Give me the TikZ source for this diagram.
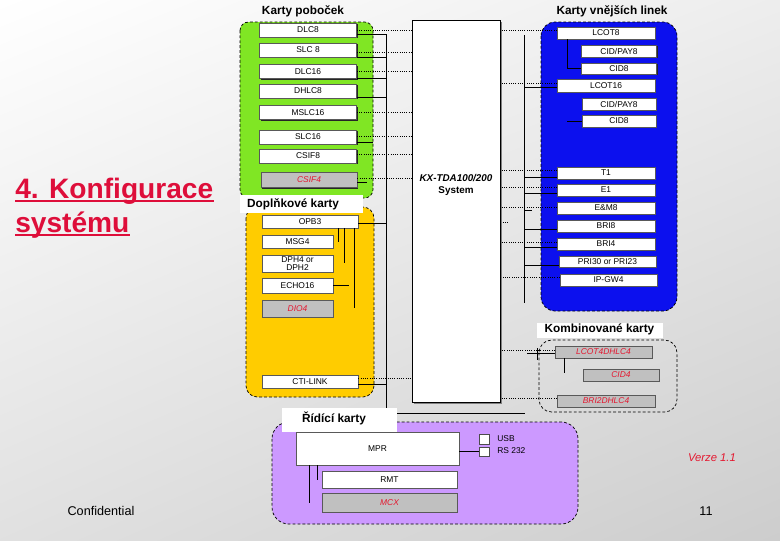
\documentclass[tikz,border=0pt]{standalone}
\usepackage{fontspec}
\setmainfont{Liberation Sans}
\usetikzlibrary{calc,shadows,shadings}
\newcommand{\PX}{0.025cm}
\definecolor{brgreen}{RGB}{128,230,36}
\definecolor{exblue}{RGB}{12,16,238}
\definecolor{opyellow}{RGB}{255,204,0}
\definecolor{ctpurple}{RGB}{204,153,255}
\definecolor{cardgrey}{RGB}{192,192,192}
\definecolor{redlbl}{RGB}{228,24,48}
\definecolor{titlered}{RGB}{222,14,58}
\definecolor{slidegrey}{RGB}{205,205,205}

\begin{document}
\begin{tikzpicture}[
    x=0.025cm, y=-0.025cm,
    card/.style={draw=black!65, fill=white, line width=0.4pt, inner sep=0pt,
      minimum height=14*\PX, font=\fontsize{6}{6.5}\selectfont,
      drop shadow={shadow xshift=1pt, shadow yshift=-1pt, fill=black!85, opacity=1}},
    xcard/.style={card, fill=cardgrey, text=redlbl, font=\fontsize{6}{6.5}\selectfont\itshape},
    port/.style={draw=black!70, fill=white, line width=0.4pt, inner sep=0pt},
    region/.style={draw=black, line width=0.5pt, dash pattern=on 2pt off 1.5pt},
    wire/.style={draw=black, line width=0.6pt},
    dotline/.style={draw=black, line width=0.6pt, densely dotted},
    hdr/.style={font=\fontsize{8.4}{9}\selectfont\bfseries, inner sep=0pt},
    tag/.style={font=\fontsize{6}{6.5}\selectfont, inner sep=0pt},
    ttl/.style={anchor=base west, inner sep=0pt, text=titlered, font=\fontsize{20}{24}\selectfont\bfseries},
  ]

  % slide background
  \shade[upper left=white, upper right=gray!14, lower left=gray!24, lower right=slidegrey]
    (0,0) rectangle (780,540);
  \useasboundingbox (0,0) rectangle (780,540);

  % card groups
  \filldraw[region, fill=brgreen, rounded corners=6pt]  (240,22)  rectangle (373,198);
  \filldraw[region, fill=opyellow, rounded corners=8pt] (246,207) rectangle (374,397);
  \filldraw[region, fill=exblue, rounded corners=10pt]  (541,22)  rectangle (677,311);
  \filldraw[region, fill=ctpurple, rounded corners=12pt] (272,422) rectangle (578,524);
  \draw[region, rounded corners=9pt] (539,340) rectangle (677,412);

  % the system itself
  \node[draw=black, fill=white, line width=0.6pt, minimum width=88*\PX, minimum height=382*\PX,
        drop shadow={shadow xshift=1.5pt, shadow yshift=-1.5pt, fill=gray, opacity=1}]
        (sys) at (456,211) {};
  \node[align=center, font=\fontsize{7}{8}\selectfont\bfseries, inner sep=0pt] (systxt) at (456,185)
        {\itshape KX-TDA100/200\\System};

  \coordinate (busL) at (386,34);
  \coordinate (busLend) at (386,413);
  \coordinate (baseR) at (525,413);
  \coordinate (busR) at (524,35);
  \coordinate (busRend) at (524,303);
  \draw[wire] (busL) -- (busLend) -- (baseR);
  \draw[wire] (busR) -- (busRend);

  % branch cards
  \foreach \n/\lbl/\y in {dlc8/DLC8/30, slc8/SLC 8/50, dlc16/DLC16/71.5, dhlc8/DHLC8/91,
                          mslc16/MSLC16/112.5, slc16/SLC16/137, csif8/CSIF8/156}
    \node[card, minimum width=97*\PX] (\n) at (308,\y) {\lbl};
  \node[xcard, minimum width=96*\PX, minimum height=15*\PX] (csif4) at (309,180) {CSIF4};

  \foreach \n/\d in {dlc8/0, slc8/2, dlc16/0, mslc16/0, slc16/-1, csif8/-2, csif4/-2}
    \draw[dotline] ($(\n.east)+(0,\d)$) coordinate (t) -- (t -| sys.west);
  \foreach \n/\d in {dlc8/4, slc8/7, dlc16/7, dhlc8/6}
    \draw[wire] ($(\n.east)+(0,\d)$) coordinate (t) -- (t -| busL);
  \draw[wire] ($(slc16.east)+(0,5)$) -- ++(16,0);
  \draw[wire] ($(csif4.east)+(0,2)$) -- ++(10,0);

  % optional cards
  \node[card, minimum width=96*\PX, minimum height=13*\PX] (opb3) at (310,221.5) {OPB3};
  \node[card, minimum width=71*\PX, minimum height=13*\PX] (msg4) at (297.5,241.5) {MSG4};
  \node[card, minimum width=71*\PX, minimum height=17*\PX, align=center,
        font=\fontsize{6}{6}\selectfont] (dph) at (297.5,263.5) {DPH4 or\\DPH2};
  \node[card, minimum width=71*\PX, minimum height=15*\PX] (echo16) at (297.5,285.5) {ECHO16};
  \node[xcard, minimum width=71*\PX, minimum height=17*\PX] (dio4) at (297.5,308.5) {DIO4};
  \node[card, minimum width=96*\PX, minimum height=13*\PX] (ctilink) at (310,381.5) {CTI-LINK};

  \draw[wire] ($(opb3.east)+(0,1.5)$) coordinate (t) -- (t -| busL);
  \draw[wire] ($(opb3.south west)+(77,0)$) -- ++(0,14);
  \draw[wire] ($(opb3.south west)+(83,0)$) -- ++(0,35);
  \draw[wire] ($(opb3.south west)+(93,0)$) -- ++(0,80);
  \draw[wire] (echo16.east) -- ++(16,0);
  \draw[dotline] ($(ctilink.east)+(0,-3.5)$) coordinate (t) -- (t -| sys.west);
  \draw[wire] ($(ctilink.east)+(0,2.5)$) coordinate (t) -- (t -| busL);

  % trunk cards
  \foreach \n/\lbl/\x/\y/\w/\h in {lcot8/LCOT8/606/33/98/12, cidpaya/{CID/PAY8}/619/51/75/12,
      cida/CID8/619/68.5/75/11, lcot16/LCOT16/606/85.5/98/13, cidpayb/{CID/PAY8}/619/104/74/12,
      cidb/CID8/619/121/74/12, t1/T1/606/173/98/12, e1/E1/606/190/98/12, em8/E\&M8/606/208/98/12,
      bri8/BRI8/606/226/98/12, bri4/BRI4/606/244/98/12, pri/PRI30 or PRI23/607.5/261.5/97/11,
      ipgw4/IP-GW4/608.5/280/97/12}
    \node[card, minimum width=\w*\PX, minimum height=\h*\PX] (\n) at (\x,\y) {\lbl};

  \foreach \n/\d in {lcot8/-3, lcot16/-2.5, t1/-3, e1/-3, em8/-1, bri4/-2, ipgw4/-3}
    \draw[dotline] ($(\n.west)+(0,\d)$) coordinate (t) -- (t -| sys.east);
  \foreach \n/\d in {lcot16/1.5, t1/4, e1/3, bri8/3, bri4/3, pri/3.5}
    \draw[wire] ($(\n.west)+(0,\d)$) coordinate (t) -- (t -| busR);
  \draw[wire] ($(em8.west)+(0,2)$) coordinate (t) (t -| busR) -- ++(8,0);
  \draw[dotline] ($(bri8.west)+(0,-4)$) coordinate (t) (t -| sys.east) -- ++(7,0);
  \draw[wire] ($(lcot8.south west)+(11,0)$) |- (cida.west);
  \draw[wire] (cidb.west) -- ++(-15,0);

  % combined cards
  \node[xcard, minimum width=97*\PX, minimum height=12*\PX] (lcot4) at (603.5,352) {LCOT4DHLC4};
  \node[xcard, minimum width=76*\PX, minimum height=12*\PX] (cid4) at (621,375) {CID4};
  \node[xcard, minimum width=98*\PX, minimum height=12*\PX] (bri2) at (606,401) {BRI2DHLC4};
  \draw[dotline] ($(lcot4.west)+(0,-2)$) coordinate (t) -- (t -| sys.east);
  \draw[wire] ($(lcot4.west)+(0,1)$) -- ++(-28,0);
  \draw[wire] ($(lcot4.west)+(-17,-4)$) -- ++(0,12);
  \draw[wire] ($(lcot4.south west)+(10,0)$) -- ++(0,15);
  \draw[dotline] ($(bri2.west)+(0,-3)$) coordinate (t) -- (t -| sys.east);

  % control cards
  \node[card, minimum width=163*\PX, minimum height=33*\PX] (mpr) at (377.5,448.5) {MPR};
  \node[card, minimum width=135*\PX, minimum height=17*\PX] (rmt) at (389.5,479.5) {RMT};
  \node[xcard, minimum width=135*\PX, minimum height=19*\PX] (mcx) at (389.5,502.5) {MCX};
  \node[port, minimum width=10*\PX, minimum height=10*\PX] (usb) at (484,439) {};
  \node[port, minimum width=10*\PX, minimum height=9*\PX] (rs232) at (484,451.5) {};
  \node[tag, anchor=west] (usbtxt) at (497,439) {USB};
  \node[tag, anchor=west] (rstxt) at (497,451) {RS 232};
  \draw[wire] (rs232.west) -- (rs232.west -| mpr.east);
  \draw[wire] (mpr.south -| 309,0) -- (mcx.west -| 309,0);
  \draw[wire] (mpr.south -| 317,0) -- (rmt.west -| 317,0);

  % group titles
  \node[hdr] (brtitle) at (303,11) {Karty poboček};
  \node[hdr] (extitle) at (612,11) {Karty vnějších linek};
  \fill[white] (240,195) rectangle (363,213);
  \node[hdr] (optitle) at (293,204) {Doplňkové karty};
  \fill[white] (537,323) rectangle (663,338);
  \node[hdr] (cbtitle) at (599.5,329) {Kombinované karty};
  \fill[white] (282,408) rectangle (397,432);
  \node[hdr] (cttitle) at (334,418) {Řídící karty};

  % slide text
  \node[ttl] (title1) at (15,198) {4. Konfigurace};
  \node[ttl] (title2) at (15,232) {systému};
  \foreach \n in {title1, title2}
    \draw[titlered, line width=1.5pt] ($(\n.base west)+(0,3)$) -- ($(\n.base east)+(0,3)$);
  \node[font=\fontsize{8}{9}\selectfont\itshape, text=redlbl] (ver) at (712,458) {Verze 1.1};
  \node[font=\fontsize{9}{10}\selectfont] (conf) at (101,511) {Confidential};
  \node[font=\fontsize{9}{10}\selectfont] (pgno) at (706,511) {11};

\end{tikzpicture}
\end{document}
